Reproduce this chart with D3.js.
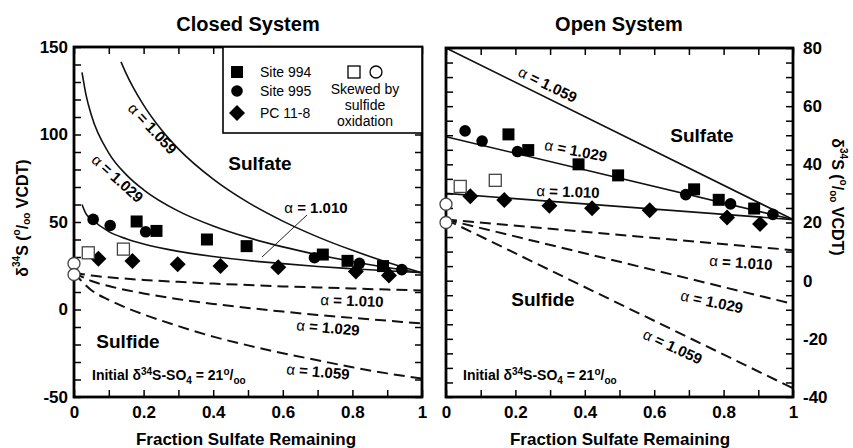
<!DOCTYPE html>
<html>
<head>
<meta charset="utf-8">
<script src="https://cdn.jsdelivr.net/npm/d3@7"></script>
<style>
  body { margin: 0; background: #fff; }
  svg { display: block; font-family: "Liberation Sans", Arial, sans-serif; }
</style>
</head>
<body>
<svg id="chart"></svg>
<script>
// ---- data ----
const fractionTicks = [0, 0.1, 0.2, 0.3, 0.4, 0.5, 0.6, 0.7, 0.8, 0.9, 1];
const alphaLabels = ["1.010", "1.029", "1.059"];

// closed system, residual sulfate
const closedSulfate1010 = [[0.023, 60], [0.035, 54.5], [0.05, 51.7], [0.1, 44.5], [0.15, 40.4], [0.2, 37.4], [0.3, 33.2], [0.4, 30.3], [0.5, 28], [0.6, 26.2], [0.7, 24.6], [0.8, 23.3], [0.9, 22.1], [1, 21]];
const closedSulfate1029 = [[0.023, 135.5], [0.035, 122.2], [0.05, 111], [0.1, 89.4], [0.15, 77.1], [0.2, 68.4], [0.3, 56.2], [0.4, 47.7], [0.5, 41.1], [0.6, 35.8], [0.7, 31.3], [0.8, 27.4], [0.9, 24], [1, 21]];
const closedSulfate1059 = [[0.135, 141.5], [0.15, 134.8], [0.17, 126.9], [0.2, 116.8], [0.25, 103], [0.3, 91.8], [0.4, 74.5], [0.5, 61.2], [0.6, 50.5], [0.7, 41.5], [0.8, 33.8], [0.9, 27], [1, 21]];
// closed system, sulfide
const closedSulfide1010 = [[0, 21], [0.05, 19.4], [0.1, 18.4], [0.2, 16.9], [0.3, 15.8], [0.4, 14.8], [0.5, 14], [0.6, 13.2], [0.7, 12.6], [0.8, 12], [0.9, 11.4], [1, 10.9]];
const closedSulfide1029 = [[0, 21], [0.05, 16.3], [0.1, 13.4], [0.2, 9.2], [0.3, 5.9], [0.4, 3.2], [0.5, 0.9], [0.6, -1.2], [0.7, -3.1], [0.8, -4.8], [0.9, -6.4], [1, -8]];
const closedSulfide1059 = [[0, 21], [0.05, 11], [0.1, 5.5], [0.15, 1], [0.2, -2.8], [0.3, -9.5], [0.4, -15.5], [0.5, -20.5], [0.6, -25], [0.7, -29], [0.8, -33], [0.9, -36.5], [1, -39.5]];

// open system
const openSulfate1010 = [[0, 30], [1, 21]];
const openSulfate1029 = [[0, 49.5], [1, 21]];
const openSulfate1059 = [[0, 80], [1, 21]];
const openSulfide1010 = [[0, 21], [1, 10.5]];
const openSulfide1029 = [[0, 21], [1, -8]];
const openSulfide1059 = [[0, 21], [1, -37]];

// measured pore-water sulfate (fraction remaining, d34S)
const site994 = [[0.18, 50.3], [0.237, 44.9], [0.382, 40], [0.496, 36.2], [0.715, 31.4], [0.786, 27.8], [0.888, 24.8]];
const site995 = [[0.055, 51.5], [0.104, 48], [0.206, 44.4], [0.691, 29.6], [0.82, 26.4], [0.942, 22.8]];
const pc118 = [[0.07, 29], [0.168, 27.7], [0.298, 25.8], [0.421, 24.9], [0.587, 24.2], [0.81, 21.7], [0.905, 19.5]];
const skewedSquares = [[0.041, 32.4], [0.142, 34.5]];
const skewedCircles = [[0, 26.3], [0, 20]];

// ---- setup ----
const svg = d3.select("#chart")
  .attr("width", 853)
  .attr("height", 448);

const xClosed = d3.scaleLinear().domain([0, 1]).range([74, 422]);
const yClosed = d3.scaleLinear().domain([-50, 150]).range([397, 47]);
const xOpen = d3.scaleLinear().domain([0, 1]).range([446, 793]);
const yOpen = d3.scaleLinear().domain([-40, 80]).range([397, 48]);

const fracFormat = d => Math.round(d * 10) % 2 === 0 ? String(+d.toFixed(1)) : "";

function drawAxes(x, y, yStep, yMajor, labelSide) {
  const [x0, x1] = x.range();
  const [yb, yt] = y.range();
  const yTicks = d3.range(y.domain()[0], y.domain()[1] + 0.001, yStep);
  const yFormat = d => d % yMajor === 0 ? String(d) : "";
  const g = svg.append("g");

  g.append("g").attr("transform", `translate(0,${yb})`)
    .call(d3.axisBottom(x).tickValues(fractionTicks).tickSizeInner(-7).tickSizeOuter(0).tickPadding(9).tickFormat(fracFormat));
  g.append("g").attr("transform", `translate(0,${yt})`)
    .call(d3.axisTop(x).tickValues(fractionTicks).tickSizeInner(-7).tickSizeOuter(0).tickFormat(""));

  const left = d3.axisLeft(y).tickValues(yTicks).tickSizeInner(-7).tickSizeOuter(0);
  const right = d3.axisRight(y).tickValues(yTicks).tickSizeInner(-7).tickSizeOuter(0);
  if (labelSide === "left") {
    left.tickPadding(6).tickFormat(yFormat);
    right.tickFormat("");
  } else {
    left.tickFormat("");
    right.tickPadding(10).tickFormat(yFormat);
  }
  g.append("g").attr("transform", `translate(${x0},0)`).call(left);
  g.append("g").attr("transform", `translate(${x1},0)`).call(right);

  g.selectAll(".domain").remove();
  g.selectAll(".tick line").attr("stroke", "#000").attr("stroke-width", 1.5);
  g.selectAll(".tick text")
    .attr("fill", "#000")
    .attr("font-family", "Liberation Sans, Arial, sans-serif")
    .attr("font-size", 17)
    .attr("font-weight", "bold");

  g.append("rect")
    .attr("x", x0).attr("y", yt)
    .attr("width", x1 - x0).attr("height", yb - yt)
    .attr("fill", "none")
    .attr("stroke", "#000")
    .attr("stroke-width", 2.8);
}

function drawCurve(x, y, data, dashed) {
  const line = d3.line()
    .curve(d3.curveMonotoneX)
    .x(d => x(d[0]))
    .y(d => y(d[1]));
  svg.append("path")
    .attr("d", line(data))
    .attr("fill", "none")
    .attr("stroke", "#111")
    .attr("stroke-width", dashed ? 2 : 1.6)
    .attr("stroke-dasharray", dashed ? "11,6" : null);
}

function drawMarkers(x, y) {
  const g = svg.append("g");
  g.selectAll(".sq").data(site994).enter().append("rect")
    .attr("x", d => x(d[0]) - 6).attr("y", d => y(d[1]) - 6)
    .attr("width", 12).attr("height", 12).attr("fill", "#000");
  g.selectAll(".ci").data(site995).enter().append("circle")
    .attr("cx", d => x(d[0])).attr("cy", d => y(d[1]))
    .attr("r", 5.8).attr("fill", "#000");
  g.selectAll(".di").data(pc118).enter().append("path")
    .attr("d", d3.symbol(d3.symbolSquare, 128))
    .attr("transform", d => `translate(${x(d[0])},${y(d[1])}) rotate(45)`)
    .attr("fill", "#000");
  g.selectAll(".osq").data(skewedSquares).enter().append("rect")
    .attr("x", d => x(d[0]) - 6).attr("y", d => y(d[1]) - 6)
    .attr("width", 12).attr("height", 12)
    .attr("fill", "#fff").attr("stroke", "#444").attr("stroke-width", 1.3);
  g.selectAll(".oci").data(skewedCircles).enter().append("circle")
    .attr("cx", d => x(d[0])).attr("cy", d => y(d[1]))
    .attr("r", 6).attr("fill", "#fff").attr("stroke", "#444").attr("stroke-width", 1.3);
}

function alphaLabel(x, y, rot, value) {
  const t = svg.append("text")
    .attr("transform", `translate(${x},${y}) rotate(${rot})`)
    .attr("text-anchor", "middle")
    .attr("dominant-baseline", "central")
    .attr("font-size", 15)
    .attr("font-weight", "bold");
  t.append("tspan").attr("font-weight", "normal").text("\u03b1");
  t.append("tspan").text(" = " + value);
}

function boldText(x, y, str, size) {
  svg.append("text")
    .attr("x", x).attr("y", y)
    .attr("text-anchor", "middle")
    .attr("font-size", size)
    .attr("font-weight", "bold")
    .text(str);
}

function initialText(x, y) {
  const t = svg.append("text")
    .attr("x", x).attr("y", y)
    .attr("font-size", 14)
    .attr("font-weight", "bold");
  t.append("tspan").text("Initial \u03b4");
  t.append("tspan").attr("dy", -5).attr("font-size", 10).text("34");
  t.append("tspan").attr("dy", 5).text("S-SO");
  t.append("tspan").attr("dy", 4).attr("font-size", 10).text("4");
  t.append("tspan").attr("dy", -4).text(" = 21");
  t.append("tspan").attr("dy", -5).attr("font-size", 10).text("o");
  t.append("tspan").attr("dy", 5).text("/");
  t.append("tspan").attr("dy", 4).attr("font-size", 10).text("oo");
}

function yTitle(x, y, rot) {
  const t = svg.append("text")
    .attr("transform", `translate(${x},${y}) rotate(${rot})`)
    .attr("text-anchor", "middle")
    .attr("dominant-baseline", "central")
    .attr("font-size", 16)
    .attr("font-weight", "bold");
  t.append("tspan").text("\u03b4");
  t.append("tspan").attr("dy", -6).attr("font-size", 10).text("34");
  t.append("tspan").attr("dy", 6).text("S (");
  t.append("tspan").attr("dy", -6).attr("font-size", 10).text("o");
  t.append("tspan").attr("dy", 6).text("/");
  t.append("tspan").attr("dy", 4).attr("font-size", 10).text("oo");
  t.append("tspan").attr("dy", -4).text(" VCDT)");
}

// ---- closed system panel ----
drawCurve(xClosed, yClosed, closedSulfate1010, false);
drawCurve(xClosed, yClosed, closedSulfate1029, false);
drawCurve(xClosed, yClosed, closedSulfate1059, false);
drawCurve(xClosed, yClosed, closedSulfide1010, true);
drawCurve(xClosed, yClosed, closedSulfide1029, true);
drawCurve(xClosed, yClosed, closedSulfide1059, true);

// ---- open system panel ----
drawCurve(xOpen, yOpen, openSulfate1010, false);
drawCurve(xOpen, yOpen, openSulfate1029, false);
drawCurve(xOpen, yOpen, openSulfate1059, false);
drawCurve(xOpen, yOpen, openSulfide1010, true);
drawCurve(xOpen, yOpen, openSulfide1029, true);
drawCurve(xOpen, yOpen, openSulfide1059, true);

drawAxes(xClosed, yClosed, 10, 50, "left");
drawAxes(xOpen, yOpen, 5, 20, "right");

drawMarkers(xClosed, yClosed);
drawMarkers(xOpen, yOpen);

// titles
boldText(248, 31, "Closed System", 20);
boldText(619, 31, "Open System", 20);
boldText(246, 445, "Fraction Sulfate Remaining", 17);
boldText(620, 445, "Fraction Sulfate Remaining", 17);
yTitle(22, 218, -90);
yTitle(838, 197, 90);

// closed annotations
alphaLabel(153, 128, 47, alphaLabels[2]);
alphaLabel(118, 178, 42, alphaLabels[1]);
alphaLabel(316, 207, 0, alphaLabels[0]);
svg.append("line")
  .attr("x1", 307).attr("y1", 215).attr("x2", 262).attr("y2", 257)
  .attr("stroke", "#222").attr("stroke-width", 1);
alphaLabel(352, 300, 2, alphaLabels[0]);
alphaLabel(328, 327, 5, alphaLabels[1]);
alphaLabel(318, 371, 5, alphaLabels[2]);
boldText(260, 170, "Sulfate", 19);
boldText(128, 348, "Sulfide", 19);
initialText(92, 380);

// open annotations
alphaLabel(548, 84, 26, alphaLabels[2]);
alphaLabel(576, 150, 11, alphaLabels[1]);
alphaLabel(568, 191, 2, alphaLabels[0]);
alphaLabel(741, 262, 4, alphaLabels[0]);
alphaLabel(712, 301, 12, alphaLabels[1]);
alphaLabel(673, 346, 25, alphaLabels[2]);
boldText(702, 142, "Sulfate", 19);
boldText(543, 306, "Sulfide", 19);
initialText(463, 380);

// legend
const legend = svg.append("g");
legend.append("rect")
  .attr("x", 223).attr("y", 47)
  .attr("width", 199).attr("height", 86)
  .attr("fill", "#fff").attr("stroke", "#000").attr("stroke-width", 1.6);
const legendItems = [
  { label: "Site 994", y: 72, shape: "square" },
  { label: "Site 995", y: 91, shape: "circle" },
  { label: "PC 11-8", y: 113, shape: "diamond" }
];
legendItems.forEach(d => {
  if (d.shape === "square") {
    legend.append("rect").attr("x", 231).attr("y", d.y - 6).attr("width", 12).attr("height", 12).attr("fill", "#000");
  } else if (d.shape === "circle") {
    legend.append("circle").attr("cx", 237).attr("cy", d.y).attr("r", 5.8).attr("fill", "#000");
  } else {
    legend.append("path").attr("d", d3.symbol(d3.symbolSquare, 128))
      .attr("transform", `translate(237,${d.y}) rotate(45)`).attr("fill", "#000");
  }
  legend.append("text")
    .attr("x", 260).attr("y", d.y)
    .attr("dominant-baseline", "central")
    .attr("font-size", 14)
    .text(d.label);
});
legend.append("rect").attr("x", 348).attr("y", 66).attr("width", 12).attr("height", 12)
  .attr("fill", "#fff").attr("stroke", "#000").attr("stroke-width", 1.3);
legend.append("circle").attr("cx", 376).attr("cy", 72).attr("r", 6)
  .attr("fill", "#fff").attr("stroke", "#000").attr("stroke-width", 1.3);
["Skewed by", "sulfide", "oxidation"].forEach((s, i) => {
  legend.append("text")
    .attr("x", 365).attr("y", 89 + i * 16)
    .attr("text-anchor", "middle")
    .attr("dominant-baseline", "central")
    .attr("font-size", 14)
    .text(s);
});
</script>
</body>
</html>
